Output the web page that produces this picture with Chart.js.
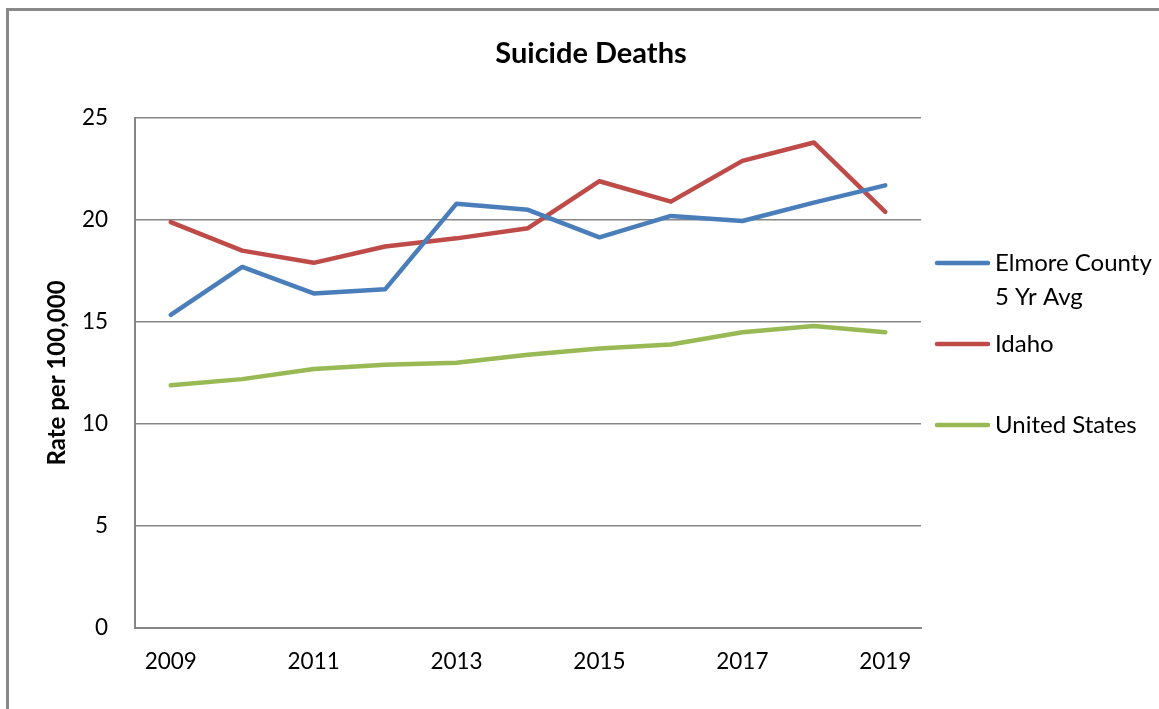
<!DOCTYPE html>
<html>
<head>
<meta charset="utf-8">
<script src="https://cdn.jsdelivr.net/npm/chart.js@4.4.1/dist/chart.umd.min.js"></script>
<style>
    html, body { margin: 0; padding: 0; background: #fff; overflow: hidden; }
    #frame { position: absolute; left: 6px; top: 8px; width: 1200px; height: 800px; border: 3px solid #898989; }
    #wrap { position: absolute; left: 0; top: 0; width: 1159px; height: 709px; }
</style>
</head>
<body>
<div id="frame"></div>
<div id="wrap"><canvas id="suicideChart" width="1159" height="709"></canvas></div>
<script>
const years = ["2009", "2010", "2011", "2012", "2013", "2014", "2015", "2016", "2017", "2018", "2019"];
const elmore = [15.35, 17.7, 16.4, 16.6, 20.8, 20.5, 19.15, 20.2, 19.95, 20.85, 21.7];
const idaho = [19.9, 18.5, 17.9, 18.7, 19.1, 19.6, 21.9, 20.9, 22.9, 23.8, 20.4];
const unitedStates = [11.9, 12.2, 12.7, 12.9, 13.0, 13.4, 13.7, 13.9, 14.5, 14.8, 14.5];
const seriesNames = [["Elmore County", "5 Yr Avg"], ["Idaho"], ["United States"]];
const yTicks = [0, 5, 10, 15, 20, 25];

const FONT = "Lato, 'Open Sans', sans-serif";
const gridGray = "#868686";

// title + legend are drawn by hand so they sit where the original has them
const sideBits = {
    id: "sideBits",
    afterDraw(chart) {
        const ctx = chart.ctx;
        ctx.save();
        ctx.fillStyle = "#000";
        ctx.font = "bold 29px " + FONT;
        ctx.textAlign = "center";
        ctx.textBaseline = "middle";
        ctx.fillText("Suicide Deaths", 591, 54);

        const rows = [263, 344, 425];
        ctx.font = "24px " + FONT;
        ctx.textAlign = "left";
        chart.data.datasets.forEach((ds, i) => {
            const y = rows[i];
            ctx.strokeStyle = ds.borderColor;
            ctx.lineWidth = 4.5;
            ctx.lineCap = "round";
            ctx.beginPath();
            ctx.moveTo(937, y);
            ctx.lineTo(988, y);
            ctx.stroke();
            seriesNames[i].forEach((line, j) => {
                ctx.fillText(line, 995, y + j * 34);
            });
        });
        ctx.restore();
    }
};

new Chart(document.getElementById("suicideChart"), {
    type: "line",
    data: {
        labels: years,
        datasets: [
            { label: "Elmore County 5 Yr Avg", data: elmore, borderColor: "#4A7EBB" },
            { label: "Idaho", data: idaho, borderColor: "#BE4B48" },
            { label: "United States", data: unitedStates, borderColor: "#98B954" }
        ].map(d => Object.assign(d, {
            borderWidth: 4.5,
            pointRadius: 0,
            tension: 0,
            fill: false,
            borderCapStyle: "round",
            borderJoinStyle: "round"
        }))
    },
    options: {
        responsive: false,
        animation: false,
        layout: { padding: { left: 43, right: 238, top: 118, bottom: 0 } },
        plugins: {
            legend: { display: false },
            title: { display: false },
            tooltip: { enabled: false }
        },
        scales: {
            x: {
                offset: true,
                grid: { display: false, drawTicks: false },
                border: { display: true, color: gridGray, width: 2 },
                ticks: {
                    autoSkip: false,
                    maxRotation: 0,
                    padding: 20,
                    color: "#000",
                    font: { family: FONT, size: 22.5 },
                    callback: (v, i) => (i % 2 === 0 ? years[i] : "")
                },
                afterFit: s => { s.height = 81; }
            },
            y: {
                min: 0,
                max: 25,
                afterBuildTicks: s => { s.ticks = yTicks.map(v => ({ value: v })); },
                grid: { color: gridGray, lineWidth: 1.5, drawTicks: false },
                border: { display: true, color: gridGray, width: 2 },
                ticks: {
                    padding: 27,
                    color: "#000",
                    font: { family: FONT, size: 22.5 }
                },
                title: {
                    display: true,
                    text: "Rate per 100,000",
                    color: "#000",
                    font: { family: FONT, size: 24, weight: "bold" },
                    padding: 0
                },
                afterFit: s => { s.width = 92; }
            }
        }
    },
    plugins: [sideBits]
});
</script>
</body>
</html>
